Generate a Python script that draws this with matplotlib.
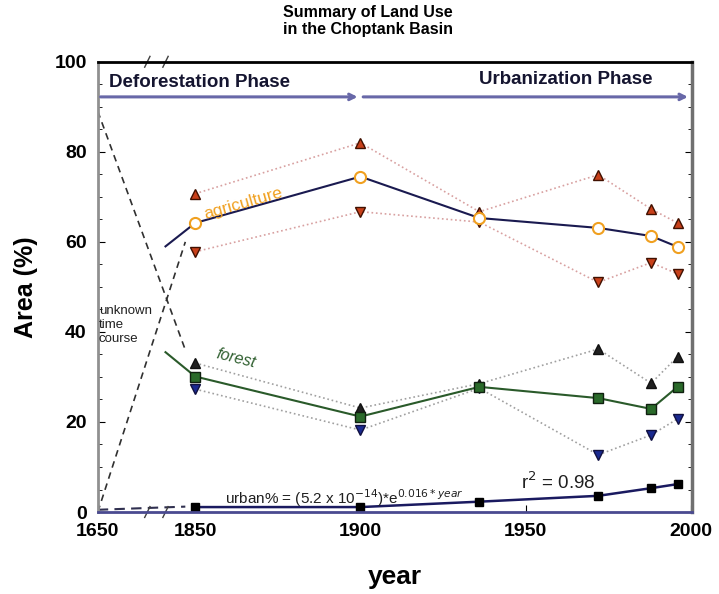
import matplotlib.pyplot as plt
import numpy as np

# sample years (1650 is drawn at the left edge of a broken axis)
years = [1850, 1900, 1936, 1972, 1988, 1996]

agri = [64.2, 74.5, 65.3, 63.1, 61.3, 58.9]
agri_hi = [70.7, 82.0, 66.7, 74.9, 67.3, 64.2]
agri_lo = [57.8, 66.7, 64.4, 51.0, 55.4, 52.9]

forest = [30.1, 21.2, 27.8, 25.3, 22.9, 27.8]
forest_hi = [33.1, 23.1, 28.5, 36.2, 28.6, 34.5]
forest_lo = [27.3, 18.2, 27.5, 12.7, 17.1, 20.7]

urban = [1.1, 1.1, 2.3, 3.6, 5.3, 6.2]

# "unknown time course" guesses from 1650 towards 1850
unk_years = [1650, 1847]
unk_forest = [89, 36]
unk_agri = [0, 60]
unk_urban = [0.5, 1.2]

X0 = 1820.5  # where 1650 sits on the broken axis


def xp(y):
    y = np.asarray(y, dtype=float)
    return np.where(y < 1800, X0, y)


plt.rcParams['font.family'] = ['Liberation Sans', 'DejaVu Sans']
fig = plt.figure(figsize=(7.19, 5.94), dpi=100)
ax = fig.add_axes([0.136, 0.138, 0.827, 0.758])

# agriculture
ax.plot(xp(years), agri_hi, ':', color='#d8a0a0', lw=1.2, marker='^', ms=7,
        mfc='#c8401a', mec='#401000')
ax.plot(xp(years), agri_lo, ':', color='#d8a0a0', lw=1.2, marker='v', ms=7,
        mfc='#c8401a', mec='#401000')
ax.plot(xp([1841] + years), [59] + agri, '-', color='#1a1a50', lw=1.5)
ax.plot(xp(years), agri, 'o', ms=8, mfc='white', mec='#f0a020', mew=1.5)

# forest
ax.plot(xp(years), forest_hi, ':', color='#a0a0a0', lw=1.2, marker='^', ms=7,
        mfc='#202020', mec='#101010')
ax.plot(xp(years), forest_lo, ':', color='#a0a0a0', lw=1.2, marker='v', ms=7,
        mfc='#1a2a90', mec='#101040')
ax.plot(xp([1841] + years), [35.5] + forest, '-', color='#2a5a2a', lw=1.5)
ax.plot(xp(years), forest, 's', ms=7, mfc='#2a6a2a', mec='#102010')

# urban
ax.plot(xp(years), urban, '-', color='#1a1a60', lw=1.8, marker='s', ms=6,
        mfc='black', mec='black')

# unknown time course
ax.plot(xp(unk_years), unk_forest, '--', color='#303030', lw=1.2,
        dashes=(4, 3))
ax.plot(xp(unk_years), unk_agri, '--', color='#303030', lw=1.2, dashes=(4, 3))
ax.plot(xp(unk_years), unk_urban, '--', color='#303050', lw=1.5, dashes=(5, 3))

# phase arrows
ax.annotate('', xy=(1900, 92.2), xytext=(X0, 92.2),
            arrowprops=dict(arrowstyle='->', color='#6868a8', lw=2.2))
ax.annotate('', xy=(2000, 92.2), xytext=(1900, 92.2),
            arrowprops=dict(arrowstyle='->', color='#6868a8', lw=2.2))
ax.text(1824, 95.5, 'Deforestation Phase', fontsize=13.5, fontweight='bold',
        va='center', ha='left', color='#151530')
ax.text(1988.5, 96, 'Urbanization Phase', fontsize=13.5, fontweight='bold',
        va='center', ha='right', color='#151530')

# labels on the curves
ax.text(1852, 68.5, 'agriculture', color='#f0a020', fontsize=12.5,
        rotation=16, ha='left', va='center')
ax.text(1856, 34, 'forest', color='#2f5f2f', fontsize=11.5, style='italic',
        rotation=-14, ha='left', va='center')
ax.text(X0 + 0.3, 41.5, 'unknown\ntime\ncourse', fontsize=9.5, ha='left',
        va='center', linespacing=1.2, color='#202020')
ax.text(1859, 3.1, r'urban% = (5.2 x 10$^{-14}$)*e$^{0.016*year}$', fontsize=11,
        ha='left', va='center', color='#202020')
ax.text(1948.5, 6.6, r'r$^2$ = 0.98', fontsize=13.5, ha='left', va='center',
        color='#202020')

ax.set_xlim(X0, 2000.5)
ax.set_ylim(0, 100)
ax.set_xticks([X0, 1850, 1900, 1950, 2000])
ax.set_xticklabels(['1650', '1850', '1900', '1950', '2000'])
ax.set_yticks([0, 20, 40, 60, 80, 100])
ax.set_yticks(np.arange(0, 101, 5), minor=True)
ax.tick_params(axis='both', which='major', labelsize=14, direction='in',
               length=5, pad=8)
ax.tick_params(axis='y', which='both', right=True, direction='in')
ax.tick_params(axis='y', which='minor', length=3)
for lab in ax.get_xticklabels() + ax.get_yticklabels():
    lab.set_fontweight('bold')

for side, col, lw in [('top', 'black', 2), ('left', '#909090', 2),
                      ('right', '#707070', 2.5), ('bottom', '#4a4a90', 2)]:
    ax.spines[side].set_color(col)
    ax.spines[side].set_linewidth(lw)

# axis break marks
for xb in (1835.5, 1841):
    for yb in (100, 0):
        ax.plot([xb - 0.8, xb + 0.8], [yb - 1.2, yb + 1.2], '-', color='#404040',
                lw=1, clip_on=False)

ax.set_xlabel('year', fontsize=19, fontweight='bold', labelpad=18)
ax.set_ylabel('Area (%)', fontsize=18, fontweight='bold', labelpad=12)
fig.text(0.512, 0.965, 'Summary of Land Use\nin the Choptank Basin', ha='center',
         va='center', fontsize=11.5, fontweight='bold', linespacing=1.15)

fig.savefig('out.png', dpi=100)
